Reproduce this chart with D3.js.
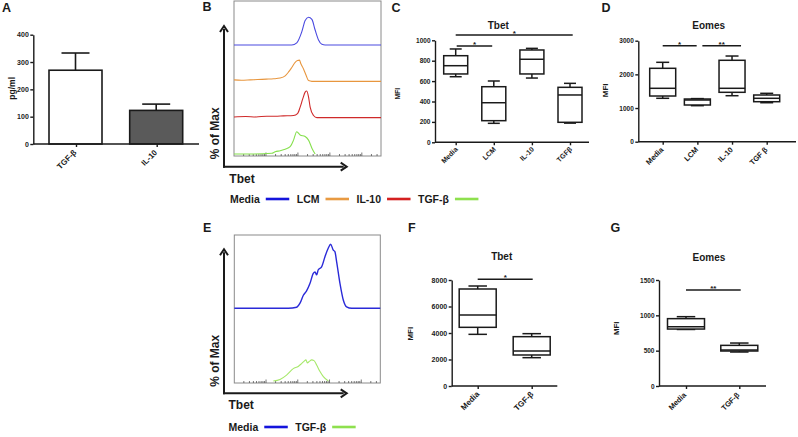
<!DOCTYPE html>
<html><head><meta charset="utf-8">
<script src="https://cdn.jsdelivr.net/npm/d3@7"></script>
<style>
html,body{margin:0;padding:0;background:#fff;}
svg{display:block;font-family:"Liberation Sans",Arial,Helvetica,sans-serif;font-weight:bold;}
</style></head><body>
<svg id="chart" width="798" height="437"></svg>
<script>
// ---------------- DATA ----------------
// Panel A: cytokine levels (pg/ml)
const aCategories = ["TGF-β", "IL-10"];
const aMeans = [270, 123];
const aErrors = [63, 23];
const aTicks = [0, 100, 200, 300, 400];

// Panel C: Tbet MFI box stats [min, q1, median, q3, max]
const cCategories = ["Media", "LCM", "IL-10", "TGFβ"];
const cStats = [[643, 670, 751, 849, 915], [186, 212, 388, 545, 601], [630, 670, 814, 905, 921], [188, 196, 464, 539, 578]];
const cTicks = [0, 200, 400, 600, 800, 1000];
const cSig = [["Media", "TGFβ", 1052, "*"], ["Media", "LCM", 944, "*"]];

// Panel D: Eomes MFI
const dCategories = ["Media", "LCM", "IL-10", "TGF β"];
const dStats = [[1289, 1357, 1586, 2180, 2358], [1070, 1090, 1238, 1268, 1280], [1366, 1467, 1586, 2418, 2545], [1158, 1188, 1289, 1387, 1437]];
const dTicks = [0, 1000, 2000, 3000];
const dSig = [["Media", "LCM", 2851, "*"], ["LCM", "IL-10", 2851, "**"]];

// Panel F: Tbet MFI
const fCategories = ["Media", "TGF-β"];
const fStats = [[3899, 4428, 5358, 7321, 7547], [2138, 2340, 2642, 3723, 3950]];
const fTicks = [0, 2000, 4000, 6000, 8000];
const fSig = [["Media", "TGF-β", 8053, "*"]];

// Panel G: Eomes MFI
const gCategories = ["Media", "TGF-β"];
const gStats = [[800, 806, 840, 953, 981], [481, 495, 509, 575, 608]];
const gTicks = [0, 500, 1000, 1500];
const gSig = [["Media", "TGF-β", 1358, "**"]];

// Panel B histograms: [channel (0-100), % of max]
const bLegend = ["Media", "LCM", "IL-10", "TGF-β"];
const histBMedia = [[0,0],[39.3,0],[42.7,6],[46.1,36],[48.4,67],[50.7,76],[53.0,70],[55.2,41],[57.5,14],[59.8,2],[62,0],[100,0]];
const histBLCM = [[0,4],[5,3],[11,4],[16,5],[22,6],[27,7],[31.4,9],[34.8,15],[37,25],[39.3,38],[41.6,52],[43.2,57],[44.5,58],[45.5,48],[47.3,34],[49.1,16],[50.7,2],[53,0],[100,0]];
const histBIL10 = [[0,2],[8,3],[15,2],[22.3,4],[28,4],[33.6,5],[40.5,6],[43.2,11],[45,29],[46.8,52],[48.4,70],[49.5,73],[50.7,57],[51.8,29],[54.1,6],[56.4,0],[100,0]];
const histBTGFb = [[0,0],[13.2,0],[25.7,2],[28,6],[31.4,9],[34.8,13],[38.2,20],[40.5,38],[42.7,61],[45,52],[48.4,48],[50.7,38],[53,16],[55.2,0]];

// Panel E histograms
const eLegend = ["Media", "TGF-β"];
const histEMedia = [[0,0],[37,0],[42.7,1.4],[45,7],[47.3,18],[49.5,24],[51.8,34],[54.1,48],[55.3,50],[56.4,46],[57.5,53],[59.8,57],[62.1,71],[64.4,83],[66,88],[67.8,80],[68.9,78],[70.1,64],[72.4,34],[74.7,11],[76.9,2],[80.4,0],[100,0]];
const histETGFb = [[26.7,0],[31.3,2],[35.8,8],[40.4,17],[43.8,20],[46.1,24],[47.7,27],[49.1,29],[50,25],[51.4,27],[53,29],[54.6,28],[56.4,22],[58.7,13],[61,6],[64.4,0]];

// ---------------- DRAWING ----------------
const svg = d3.select("#chart");
const FONT = '"Liberation Sans",Arial,Helvetica,sans-serif';
const INK = "#1a1a1a";
const fmt = d3.format("d");

function letter(t, x, y) {
  svg.append("text").attr("x", x).attr("y", y).attr("font-size", 12.5).attr("fill", INK).text(t);
}

function styleAxis(g, fs) {
  g.attr("font-family", FONT).attr("font-size", fs).attr("font-weight", "bold");
  g.selectAll("path,line").attr("stroke", INK).attr("stroke-width", 1.4);
  g.selectAll("text").attr("fill", INK);
}

function yLabel(t, x, y, fs) {
  svg.append("text").attr("transform", `translate(${x},${y}) rotate(-90)`)
    .attr("text-anchor", "middle").attr("dominant-baseline", "central")
    .attr("font-size", fs).attr("fill", INK).text(t);
}

// ---- Panel A ----
(function () {
  const ax = 33.3, y0 = 144, yTop = 34.7, xEnd = 199;
  const y = d3.scaleLinear().domain([0, 400]).range([y0, yTop]);
  const x = d3.scalePoint().domain(aCategories).range([76, 156.7]);
  const bw = 53;
  const g = svg.append("g");
  const fills = ["#ffffff", "#5a5a5a"];
  g.selectAll("line.err").data(aCategories).join("line")
    .attr("x1", d => x(d) - 0.5).attr("x2", d => x(d) - 0.5)
    .attr("y1", (d, i) => y(aMeans[i])).attr("y2", (d, i) => y(aMeans[i] + aErrors[i]))
    .attr("stroke", INK).attr("stroke-width", 1.6);
  g.selectAll("line.cap").data(aCategories).join("line")
    .attr("x1", d => x(d) - 14.5).attr("x2", d => x(d) + 13.5)
    .attr("y1", (d, i) => y(aMeans[i] + aErrors[i])).attr("y2", (d, i) => y(aMeans[i] + aErrors[i]))
    .attr("stroke", INK).attr("stroke-width", 1.6);
  g.selectAll("rect").data(aCategories).join("rect")
    .attr("x", d => x(d) - bw / 2 - 0.5).attr("width", bw)
    .attr("y", (d, i) => y(aMeans[i])).attr("height", (d, i) => y0 - y(aMeans[i]))
    .attr("fill", (d, i) => fills[i]).attr("stroke", INK).attr("stroke-width", 1.6);
  const ya = g.append("g").attr("transform", `translate(${ax},0)`)
    .call(d3.axisLeft(y).tickValues(aTicks).tickFormat(fmt).tickSize(3).tickSizeOuter(0).tickPadding(1.5));
  styleAxis(ya, 7);
  g.append("line").attr("x1", ax).attr("x2", xEnd).attr("y1", y0).attr("y2", y0).attr("stroke", INK).attr("stroke-width", 1.4);
  const xa = g.append("g").attr("transform", `translate(0,${y0})`).call(d3.axisBottom(x).tickSize(3).tickFormat(""));
  xa.select(".domain").remove();
  styleAxis(xa, 7);
  g.selectAll("text.cat").data(aCategories).join("text").attr("class", "cat")
    .attr("transform", d => `translate(${x(d) + 1},${y0 + 9}) rotate(-45)`)
    .attr("text-anchor", "end").attr("font-size", 8).attr("fill", INK).text(d => d);
  yLabel("pg/ml", 12, 88.3, 8.5);
  letter("A", 2, 12);
})();

// ---- Box plot panels ----
function boxPanel(c) {
  const g = svg.append("g");
  const y = d3.scaleLinear().domain([0, c.yMax]).range([c.y0, c.yTop]);
  const x = d3.scalePoint().domain(c.cats).range(c.catRange);
  const ya = g.append("g").attr("transform", `translate(${c.ax},0)`)
    .call(d3.axisLeft(y).tickValues(c.ticks).tickFormat(fmt).tickSize(3).tickSizeOuter(0).tickPadding(1.5));
  styleAxis(ya, c.tickFs);
  g.append("line").attr("x1", c.ax).attr("x2", c.xEnd).attr("y1", c.y0).attr("y2", c.y0).attr("stroke", INK).attr("stroke-width", 1.4);
  const xa = g.append("g").attr("transform", `translate(0,${c.y0})`).call(d3.axisBottom(x).tickSize(3).tickFormat(""));
  xa.select(".domain").remove();
  styleAxis(xa, 7);
  g.selectAll("text.cat").data(c.cats).join("text").attr("class", "cat")
    .attr("transform", d => `translate(${x(d) + c.ldx},${c.y0 + c.ldy}) rotate(-45)`)
    .attr("text-anchor", "end").attr("font-size", c.catFs).attr("fill", INK).text(d => d);
  const bw = c.boxW, cw = c.boxW / 2;
  const bg = g.selectAll("g.box").data(c.stats).join("g").attr("class", "box")
    .attr("transform", (d, i) => `translate(${x(c.cats[i])},0)`);
  const sw = 1.5;
  bg.append("line").attr("x1", 0).attr("x2", 0).attr("y1", d => y(d[0])).attr("y2", d => y(d[1])).attr("stroke", INK).attr("stroke-width", sw);
  bg.append("line").attr("x1", 0).attr("x2", 0).attr("y1", d => y(d[3])).attr("y2", d => y(d[4])).attr("stroke", INK).attr("stroke-width", sw);
  bg.append("line").attr("x1", -cw / 2).attr("x2", cw / 2).attr("y1", d => y(d[0])).attr("y2", d => y(d[0])).attr("stroke", INK).attr("stroke-width", sw);
  bg.append("line").attr("x1", -cw / 2).attr("x2", cw / 2).attr("y1", d => y(d[4])).attr("y2", d => y(d[4])).attr("stroke", INK).attr("stroke-width", sw);
  bg.append("rect").attr("x", -bw / 2).attr("width", bw).attr("y", d => y(d[3])).attr("height", d => y(d[1]) - y(d[3]))
    .attr("fill", "#fff").attr("stroke", INK).attr("stroke-width", sw);
  bg.append("line").attr("x1", -bw / 2).attr("x2", bw / 2).attr("y1", d => y(d[2])).attr("y2", d => y(d[2])).attr("stroke", INK).attr("stroke-width", sw);
  c.sig.forEach((s, i) => {
    const off = c.sigOff[i];
    const x1 = x(s[0]) + off[0], x2 = x(s[1]) + off[1];
    g.append("line").attr("x1", x1).attr("x2", x2).attr("y1", y(s[2])).attr("y2", y(s[2])).attr("stroke", INK).attr("stroke-width", 1.6);
    g.append("text").attr("x", (x1 + x2) / 2).attr("y", y(s[2]) + 1).attr("text-anchor", "middle")
      .attr("font-size", 8).attr("fill", INK).text(s[3]);
  });
  g.append("text").attr("x", c.titleX).attr("y", c.titleY).attr("text-anchor", "middle").attr("font-size", 10).attr("fill", INK).text(c.title);
  yLabel("MFI", c.mfiX, c.mfiY, c.mfiFs);
}

boxPanel({cats: cCategories, stats: cStats, ticks: cTicks, sig: cSig, sigOff: [[0, 2.7], [1, -1.6]],
  yMax: 1000, ax: 435, y0: 142.3, yTop: 40.3, xEnd: 589, catRange: [455.7, 570], boxW: 24,
  tickFs: 6.5, catFs: 7, ldx: 2.5, ldy: 7.5, title: "Tbet", titleX: 498.3, titleY: 29, mfiX: 397.3, mfiY: 93.7, mfiFs: 6.8});
boxPanel({cats: dCategories, stats: dStats, ticks: dTicks, sig: dSig, sigOff: [[0, -0.7], [5, 9]],
  yMax: 3000, ax: 638.3, y0: 141.7, yTop: 40.7, xEnd: 796, catRange: [662.7, 766.7], boxW: 26,
  tickFs: 6.5, catFs: 7.5, ldx: 1.3, ldy: 8.5, title: "Eomes", titleX: 708.7, titleY: 29.3, mfiX: 605, mfiY: 90.3, mfiFs: 8});
boxPanel({cats: fCategories, stats: fStats, ticks: fTicks, sig: fSig, sigOff: [[0, 1]],
  yMax: 8000, ax: 451.7, y0: 386, yTop: 280, xEnd: 557.3, catRange: [477.7, 531.7], boxW: 37,
  tickFs: 7, catFs: 8, ldx: 2.3, ldy: 8.7, title: "Tbet", titleX: 501.7, titleY: 259.5, mfiX: 410.7, mfiY: 333.7, mfiFs: 8});
boxPanel({cats: gCategories, stats: gStats, ticks: gTicks, sig: gSig, sigOff: [[0, 1.4]],
  yMax: 1500, ax: 659, y0: 386, yTop: 280, xEnd: 766, catRange: [686, 739.3], boxW: 37,
  tickFs: 6.5, catFs: 7.5, ldx: 0.7, ldy: 9.5, title: "Eomes", titleX: 709, titleY: 260.7, mfiX: 616.7, mfiY: 328.3, mfiFs: 7.8});
letter("C", 391.5, 11.7);
letter("D", 601.5, 11.7);
letter("F", 408, 231.7);
letter("G", 610.5, 232);

// ---- Histogram panels ----
function histPanel(h) {
  const g = svg.append("g");
  const x = d3.scaleLinear().domain([0, 100]).range([h.left, h.right]);
  const base = d3.scalePoint().domain(h.names).range(h.baseRange);
  const yh = d3.scaleLinear().domain([0, 100]).range([0, h.bandH]);
  g.append("rect").attr("x", h.left).attr("y", h.top).attr("width", h.right - h.left).attr("height", h.bottom - h.top)
    .attr("fill", "none").attr("stroke", "#8a8a8a").attr("stroke-width", 1);
  const lx = d3.scaleLog().domain([1, Math.pow(10, 4.6)]).range([h.left, h.right]);
  const tv = lx.ticks().filter(v => lx(v) > h.left + 1 && lx(v) < h.right - 1);
  g.selectAll("line.lt").data(tv).join("line")
    .attr("x1", d => lx(d)).attr("x2", d => lx(d))
    .attr("y1", h.bottom).attr("y2", d => h.bottom - (Math.abs(Math.log10(d) - Math.round(Math.log10(d))) < 1e-6 ? 3.5 : 2))
    .attr("stroke", "#555").attr("stroke-width", 0.8);
  const line = d3.line().x(d => x(d[0])).curve(d3.curveMonotoneX);
  h.series.forEach((s, i) => {
    const b = base(h.names[i]);
    g.append("path").datum(s)
      .attr("d", line.y(d => b - yh(d[1])))
      .attr("fill", "none").attr("stroke", h.traceColors[i]).attr("stroke-width", h.traceW[i]);
  });
  const ar = g.append("g").attr("stroke", INK).attr("stroke-width", 2).attr("fill", "none");
  ar.append("line").attr("x1", h.arX).attr("x2", h.arX).attr("y1", h.arY + 1).attr("y2", h.arTop + 3);
  ar.append("line").attr("x1", h.arX - 1).attr("x2", h.arRight - 3).attr("y1", h.arY).attr("y2", h.arY);
  ar.append("path").attr("d", `M${h.arX - 4},${h.arTop + 6}L${h.arX},${h.arTop}L${h.arX + 4},${h.arTop + 6}`).attr("stroke-linejoin", "miter");
  ar.append("path").attr("d", `M${h.arRight - 6},${h.arY - 4}L${h.arRight},${h.arY}L${h.arRight - 6},${h.arY + 4}`).attr("stroke-linejoin", "miter");
  svg.append("text").attr("transform", `translate(${h.pmX},${h.pmY}) rotate(-90)`)
    .attr("text-anchor", "middle").attr("dominant-baseline", "central").attr("font-size", 12).attr("fill", INK).text("% of Max");
  svg.append("text").attr("x", h.tbX).attr("y", h.tbY).attr("font-size", 12).attr("fill", INK).text("Tbet");
  // legend: text, then coloured line, laid out in sequence
  let lxPos = h.legX;
  h.names.forEach((n, i) => {
    const t = svg.append("text").attr("x", lxPos).attr("y", h.legY).attr("font-size", 10.5).attr("fill", INK).text(n);
    const w = t.node().getComputedTextLength();
    const l0 = lxPos + w + 6;
    svg.append("line").attr("x1", l0).attr("x2", l0 + 23.5)
      .attr("y1", h.legY - 4).attr("y2", h.legY - 4).attr("stroke", h.legColors[i]).attr("stroke-width", 2.6);
    lxPos = l0 + 23.5 + 7.5;
  });
}

histPanel({names: bLegend, series: [histBMedia, histBLCM, histBIL10, histBTGFb],
  left: 234, right: 381, top: 1, bottom: 156, baseRange: [45, 154], bandH: 36.5,
  traceColors: ["#4a4ae0", "#e8963e", "#cf2a2a", "#86e04e"], traceW: [1.1, 1.1, 1.1, 1.1],
  arX: 224, arY: 166.7, arTop: 26, arRight: 346.7, pmX: 215, pmY: 133.3, tbX: 229.3, tbY: 182.7,
  legY: 203, legX: 230,
  legColors: ["#1414dc", "#e89a42", "#d42020", "#8ee04e"]});
histPanel({names: eLegend, series: [histEMedia, histETGFb],
  left: 234.3, right: 380.3, top: 235, bottom: 383, baseRange: [308.3, 381], bandH: 72.7,
  traceColors: ["#2a2ad8", "#a6e86a"], traceW: [1.4, 1.1],
  arX: 224, arY: 393.3, arTop: 249.3, arRight: 346.7, pmX: 215, pmY: 360.8, tbX: 228.5, tbY: 409.3,
  legY: 431, legX: 228.5,
  legColors: ["#1414dc", "#8ee04e"]});
letter("B", 202.5, 11);
letter("E", 203, 231.7);
</script>
</body></html>
